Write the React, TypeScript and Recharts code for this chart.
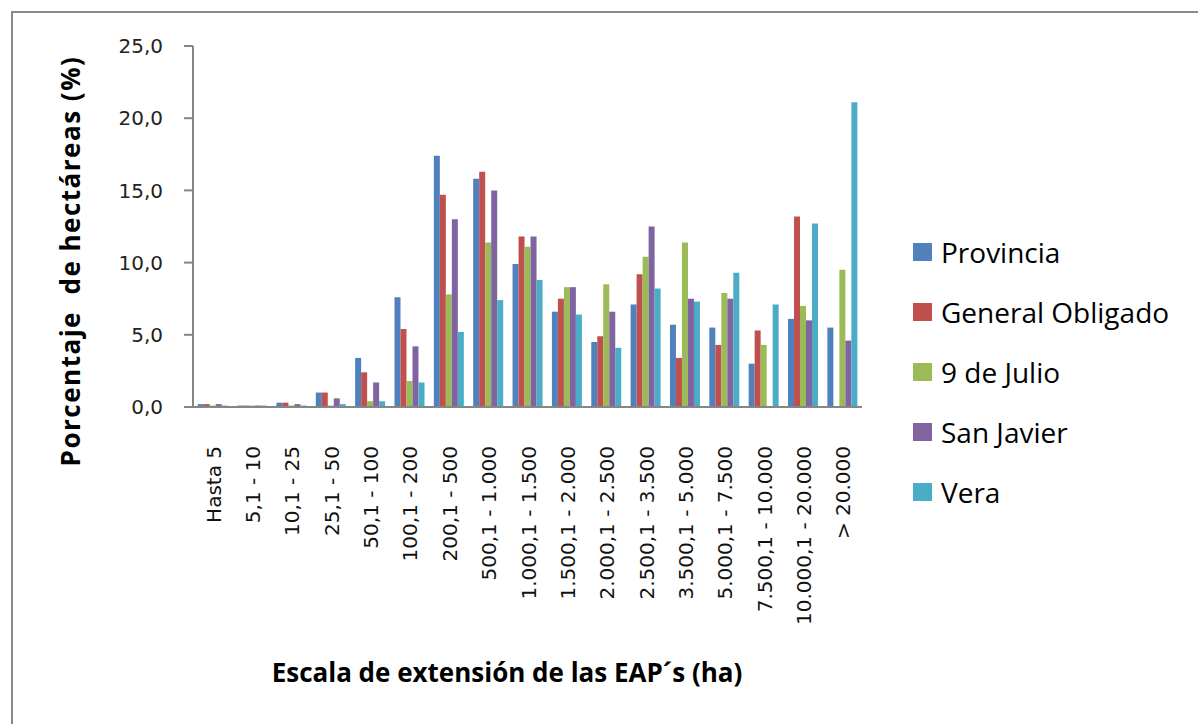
import { BarChart, Bar, XAxis, YAxis } from 'recharts';

const categories = [
  'Hasta 5',
  '5,1 - 10',
  '10,1 - 25',
  '25,1 - 50',
  '50,1 - 100',
  '100,1 - 200',
  '200,1 - 500',
  '500,1 - 1.000',
  '1.000,1 - 1.500',
  '1.500,1 - 2.000',
  '2.000,1 - 2.500',
  '2.500,1 - 3.500',
  '3.500,1 - 5.000',
  '5.000,1 - 7.500',
  '7.500,1 - 10.000',
  '10.000,1 - 20.000',
  '> 20.000',
];

const provincia = [0.2, 0.1, 0.3, 1.0, 3.4, 7.6, 17.4, 15.8, 9.9, 6.6, 4.5, 7.1, 5.7, 5.5, 3.0, 6.1, 5.5];
const generalObligado = [0.2, 0.1, 0.3, 1.0, 2.4, 5.4, 14.7, 16.3, 11.8, 7.5, 4.9, 9.2, 3.4, 4.3, 5.3, 13.2, 0];
const nueveDeJulio = [0.1, 0.1, 0.1, 0.1, 0.4, 1.8, 7.8, 11.4, 11.1, 8.3, 8.5, 10.4, 11.4, 7.9, 4.3, 7.0, 9.5];
const sanJavier = [0.2, 0.1, 0.2, 0.6, 1.7, 4.2, 13.0, 15.0, 11.8, 8.3, 6.6, 12.5, 7.5, 7.5, 0, 6.0, 4.6];
const vera = [0.1, 0.1, 0.1, 0.2, 0.4, 1.7, 5.2, 7.4, 8.8, 6.4, 4.1, 8.2, 7.3, 9.3, 7.1, 12.7, 21.1];

const yTicks = [0, 5, 10, 15, 20, 25];

const series = [
  { key: 'provincia', name: 'Provincia', color: '#4f81bd' },
  { key: 'generalObligado', name: 'General Obligado', color: '#c0504d' },
  { key: 'nueveDeJulio', name: '9 de Julio', color: '#9bbb59' },
  { key: 'sanJavier', name: 'San Javier', color: '#8064a2' },
  { key: 'vera', name: 'Vera', color: '#4bacc6' },
];

const data = categories.map((c, i) => ({
  cat: c,
  provincia: provincia[i],
  generalObligado: generalObligado[i],
  nueveDeJulio: nueveDeJulio[i],
  sanJavier: sanJavier[i],
  vera: vera[i],
}));

const fmt = (v: number) => v.toFixed(1).replace('.', ',');

function CatTick({ x, y, payload }: any) {
  return (
    <g transform={`translate(${x + 1},${y + 31})`}>
      <text
        transform="rotate(-90)"
        textAnchor="end"
        dy="0.35em"
        fontSize={20}
        fontFamily="DejaVu Sans"
        fill="#111"
      >
        {payload.value}
      </text>
    </g>
  );
}

export default function App() {
  return (
    <div style={{ position: 'absolute', left: 0, top: 0, width: 1198, height: 724, background: '#fff', overflow: 'hidden' }}>
      <div
        style={{
          position: 'absolute',
          left: 11,
          top: 11,
          width: 1300,
          height: 800,
          borderLeft: '2px solid #8a8a8a',
          borderTop: '2px solid #8a8a8a',
        }}
      />
      <BarChart
        width={1198}
        height={724}
        data={data}
        margin={{ top: 46, right: 336, bottom: 90, left: 123 }}
        barCategoryGap="12%"
        barGap={0}
        style={{ position: 'absolute', left: 0, top: 0 }}
      >
        <XAxis
          dataKey="cat"
          interval={0}
          tick={<CatTick />}
          tickLine={false}
          axisLine={{ stroke: '#868686', strokeWidth: 2 }}
          height={227}
        />
        <YAxis
          domain={[0, 25]}
          ticks={yTicks}
          tickFormatter={fmt}
          width={70}
          tickSize={9}
          tickMargin={21}
          tickLine={{ stroke: '#868686', strokeWidth: 2 }}
          axisLine={{ stroke: '#868686', strokeWidth: 2 }}
          tick={{ fontSize: 20, fontFamily: 'DejaVu Sans', fill: '#222' }}
        />
        {series.map((s) => (
          <Bar key={s.key} dataKey={s.key} name={s.name} fill={s.color} isAnimationActive={false} />
        ))}
      </BarChart>
      <div style={{ position: 'absolute', left: 913, top: 222, fontFamily: 'Open Sans', fontSize: 28, color: '#000' }}>
        {series.map((s) => (
          <div key={s.key} style={{ display: 'flex', alignItems: 'center', height: 60 }}>
            <span style={{ width: 19, height: 18, background: s.color, marginRight: 9, display: 'inline-block' }} />
            <span>{s.name}</span>
          </div>
        ))}
      </div>
      <div
        style={{
          position: 'absolute',
          left: 70,
          top: 261,
          transform: 'translate(-50%, -50%) rotate(-90deg)',
          whiteSpace: 'nowrap',
          fontFamily: 'Open Sans',
          fontWeight: 700,
          fontSize: 26,
          letterSpacing: 1.5,
          color: '#000',
        }}
      >
        Porcentaje&nbsp;&nbsp;de hectáreas (%)
      </div>
      <div
        style={{
          position: 'absolute',
          left: 507,
          top: 672,
          transform: 'translate(-50%, -50%)',
          whiteSpace: 'nowrap',
          fontFamily: 'Open Sans',
          fontWeight: 700,
          fontSize: 26,
          color: '#000',
        }}
      >
        Escala de extensión de las EAP´s (ha)
      </div>
    </div>
  );
}
